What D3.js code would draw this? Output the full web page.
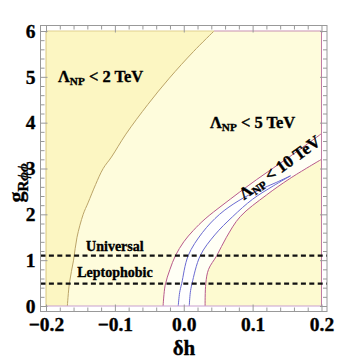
<!DOCTYPE html>
<html>
<head>
<meta charset="utf-8">
<script src="https://cdn.jsdelivr.net/npm/d3@7"></script>
<style>
  body { margin: 0; background: #fff; }
  text { font-family: "Liberation Serif", "DejaVu Serif", "Times New Roman", serif; font-weight: bold; fill: #000; stroke: #000; stroke-width: 0.35px; }
</style>
</head>
<body>
<svg id="chart" width="353" height="361"></svg>
<script>
// Tick values
var xTicks = [-0.2, -0.1, 0.0, 0.1, 0.2];
var yTicks = [0, 1, 2, 3, 4, 5, 6];

// Boundary curves (delta h, g_R) pairs
// Lambda_NP = 2 TeV
var lam2Dh = [-0.169, -0.166, -0.160, -0.155, -0.146, -0.139, -0.128, -0.117, -0.105, -0.084, -0.052, -0.021, 0.014, 0.044];
var lam2G  = [0, 0.5, 1.0, 1.5, 2.0, 2.25, 2.65, 3.0, 3.25, 3.75, 4.4, 4.97, 5.55, 6.0];
// Lambda_NP = 5 TeV, left and right branch
var lam5LDh = [-0.030, -0.027, -0.020, -0.012, 0.000, 0.014, 0.031, 0.057, 0.106, 0.154, 0.200];
var lam5LG  = [0, 0.45, 0.8, 1.1, 1.4, 1.65, 1.9, 2.21, 2.76, 3.26, 3.76];
var lam5RDh = [0.031, 0.032, 0.036, 0.048, 0.062, 0.082, 0.120, 0.154, 0.200];
var lam5RG  = [0, 0.49, 0.8, 1.1, 1.5, 1.95, 2.42, 2.78, 3.2];
// Lambda_NP = 10 TeV, closed band
var lam10LDh = [-0.008, -0.006, -0.003, 0.0065, 0.027, 0.052, 0.080, 0.108, 0.135, 0.155];
var lam10LG  = [0, 0.29, 0.49, 1.1, 1.6, 2.0, 2.3, 2.52, 2.7, 2.84];
var lam10RDh = [0.008, 0.0095, 0.012, 0.024, 0.045, 0.071, 0.100, 0.130, 0.155];
var lam10RG  = [0, 0.29, 0.49, 1.1, 1.55, 1.95, 2.33, 2.62, 2.84];

// benchmark couplings (dashed lines)
var benchNames = ['Universal', 'Leptophobic'];
var benchG = [1.1, 0.49];

var svg = d3.select('#chart');

// frame spans plot range plus a bit of padding
var x = d3.scaleLinear().domain([-0.208, 0.208]).range([40.5, 327]);
var y = d3.scaleLinear().domain([-0.12, 6.12]).range([311.5, 25.5]);

var lam2 = d3.zip(lam2Dh, lam2G);
var lam5L = d3.zip(lam5LDh, lam5LG);
var lam5R = d3.zip(lam5RDh, lam5RG);
var lam10L = d3.zip(lam10LDh, lam10LG);
var lam10R = d3.zip(lam10RDh, lam10RG);

var curve = d3.curveCatmullRom.alpha(0.5);
var line = d3.line().x(function(d){ return x(d[0]); }).y(function(d){ return y(d[1]); }).curve(curve);
function areaTo(edge) {
  // fill between a curve and a vertical edge of the plot
  return d3.area().curve(curve)
    .y(function(d){ return y(d[1]); })
    .x0(function(d){ return x(d[0]); })
    .x1(x(edge));
}

var plot = svg.append('g');

// Lambda < 5 TeV background
plot.append('rect')
  .attr('x', x(-0.2)).attr('y', y(6))
  .attr('width', x(0.2) - x(-0.2)).attr('height', y(0) - y(6))
  .style('fill', '#fefcdc');

// Lambda < 2 TeV region (left of curve)
plot.append('path').datum(lam2)
  .attr('d', areaTo(-0.2))
  .style('fill', '#fcf6c2');

// allowed band between the 5 TeV curves
plot.append('path').datum(lam5L)
  .attr('d', areaTo(0.2))
  .style('fill', '#fffff5');
plot.append('path').datum(lam5R)
  .attr('d', areaTo(0.2))
  .style('fill', '#fdfad0');

// 10 TeV band
var pL = line(lam10L);
var pR = line(lam10R.slice().reverse());
plot.append('path')
  .attr('d', pL + 'L' + pR.slice(1) + 'Z')
  .style('fill', '#ffffff');

// boundary strokes
plot.append('path').datum(lam2).attr('d', line)
  .style('fill', 'none').style('stroke', '#bba468').style('stroke-width', 1);
[lam5L, lam5R].forEach(function(c) {
  plot.append('path').datum(c).attr('d', line)
    .style('fill', 'none').style('stroke', '#b85a8c').style('stroke-width', 1);
});
plot.append('path').attr('d', pL + 'L' + pR.slice(1))
  .style('fill', 'none').style('stroke', '#6a6ad2').style('stroke-width', 1);

// plot range edges
function edge(x1, y1, x2, y2, col) {
  plot.append('line')
    .attr('x1', x(x1)).attr('y1', y(y1)).attr('x2', x(x2)).attr('y2', y(y2))
    .style('stroke', col).style('stroke-width', 1);
}
edge(-0.2, 0, -0.2, 6, '#d8c680');
edge(-0.2, 6, 0.044, 6, '#e0d08e');
edge(0.044, 6, 0.2, 6, '#c890b0');
edge(0.2, 6, 0.2, 0, '#c07aa4');
edge(-0.2, 0, 0.2, 0, '#c9a0d0');

// benchmark dashed lines
var benchLift = [5, 7];
benchG.forEach(function(g, i) {
  svg.append('line')
    .attr('x1', 40.5).attr('x2', 327)
    .attr('y1', y(g)).attr('y2', y(g))
    .style('stroke', '#111').style('stroke-width', 2.2)
    .style('stroke-dasharray', '5,3.4');
  svg.append('text')
    .attr('x', x(-0.1)).attr('y', y(g) - benchLift[i])
    .attr('text-anchor', 'middle')
    .style('font-size', '14px')
    .text(benchNames[i]);
});

// frame and ticks
var frameCol = '#999';
var minorX = d3.range(-10, 11).map(function(i){ return i * 0.02; })
  .filter(function(v){ return Math.abs(v * 10 - Math.round(v * 10)) > 1e-6; });
var minorY = d3.range(0, 31).map(function(i){ return i * 0.2; })
  .filter(function(v){ return Math.abs(v - Math.round(v)) > 1e-6; });

function axisGroup(ax, tx, ty) {
  var g = svg.append('g').attr('transform', 'translate(' + tx + ',' + ty + ')').call(ax);
  g.selectAll('.domain').remove();
  g.selectAll('line').style('stroke', frameCol);
  g.attr('font-family', null);
  return g;
}

var gx = axisGroup(d3.axisBottom(x).tickValues(xTicks).tickFormat(d3.format('.1f'))
  .tickSizeInner(-7).tickSizeOuter(0).tickPadding(6), 0, 311.5);
gx.selectAll('text').style('font-size', '19.5px');
axisGroup(d3.axisBottom(x).tickValues(minorX).tickFormat('').tickSizeInner(-4).tickSizeOuter(0), 0, 311.5);
axisGroup(d3.axisTop(x).tickValues(xTicks).tickFormat('').tickSizeInner(-7).tickSizeOuter(0), 0, 25.5);
axisGroup(d3.axisTop(x).tickValues(minorX).tickFormat('').tickSizeInner(-4).tickSizeOuter(0), 0, 25.5);

var gy = axisGroup(d3.axisLeft(y).tickValues(yTicks).tickFormat(d3.format('d'))
  .tickSizeInner(-7).tickSizeOuter(0).tickPadding(5), 40.5, 0);
gy.selectAll('text').style('font-size', '19.5px');
axisGroup(d3.axisLeft(y).tickValues(minorY).tickFormat('').tickSizeInner(-4).tickSizeOuter(0), 40.5, 0);
axisGroup(d3.axisRight(y).tickValues(yTicks).tickFormat('').tickSizeInner(-7).tickSizeOuter(0), 327, 0);
axisGroup(d3.axisRight(y).tickValues(minorY).tickFormat('').tickSizeInner(-4).tickSizeOuter(0), 327, 0);

svg.append('rect')
  .attr('x', 40.5).attr('y', 25.5).attr('width', 327 - 40.5).attr('height', 311.5 - 25.5)
  .style('fill', 'none').style('stroke', frameCol).style('stroke-width', 1);

// axis labels
svg.append('text')
  .attr('x', 184).attr('y', 355)
  .attr('text-anchor', 'middle')
  .style('font-size', '21px')
  .text('\u03B4h');

var yl = svg.append('text')
  .attr('transform', 'translate(23,183) rotate(-90)')
  .attr('text-anchor', 'middle')
  .style('font-size', '22px');
yl.append('tspan').text('g');
yl.append('tspan').attr('dy', 5).style('font-size', '15px').text('R');
yl.append('tspan').style('font-size', '15px').style('font-style', 'italic').text('\u03D5\u03D5');

// region labels
function lamLabel(parent, val, size) {
  var t = parent.append('text').style('font-size', size + 'px');
  t.append('tspan').text('\u039B');
  t.append('tspan').attr('dy', 3).style('font-size', (size * 0.68) + 'px').text('NP');
  t.append('tspan').attr('dy', -3).text(' < ' + val + ' TeV');
  return t;
}
lamLabel(svg, 2, 16.5).attr('x', 58).attr('y', 82);
lamLabel(svg, 5, 16.5).attr('x', 210).attr('y', 128);
var rot = svg.append('g').attr('transform', 'translate(280,168) rotate(-36)');
lamLabel(rot, 10, 17).attr('x', 0).attr('y', 5).attr('text-anchor', 'middle');
</script>
</body>
</html>
